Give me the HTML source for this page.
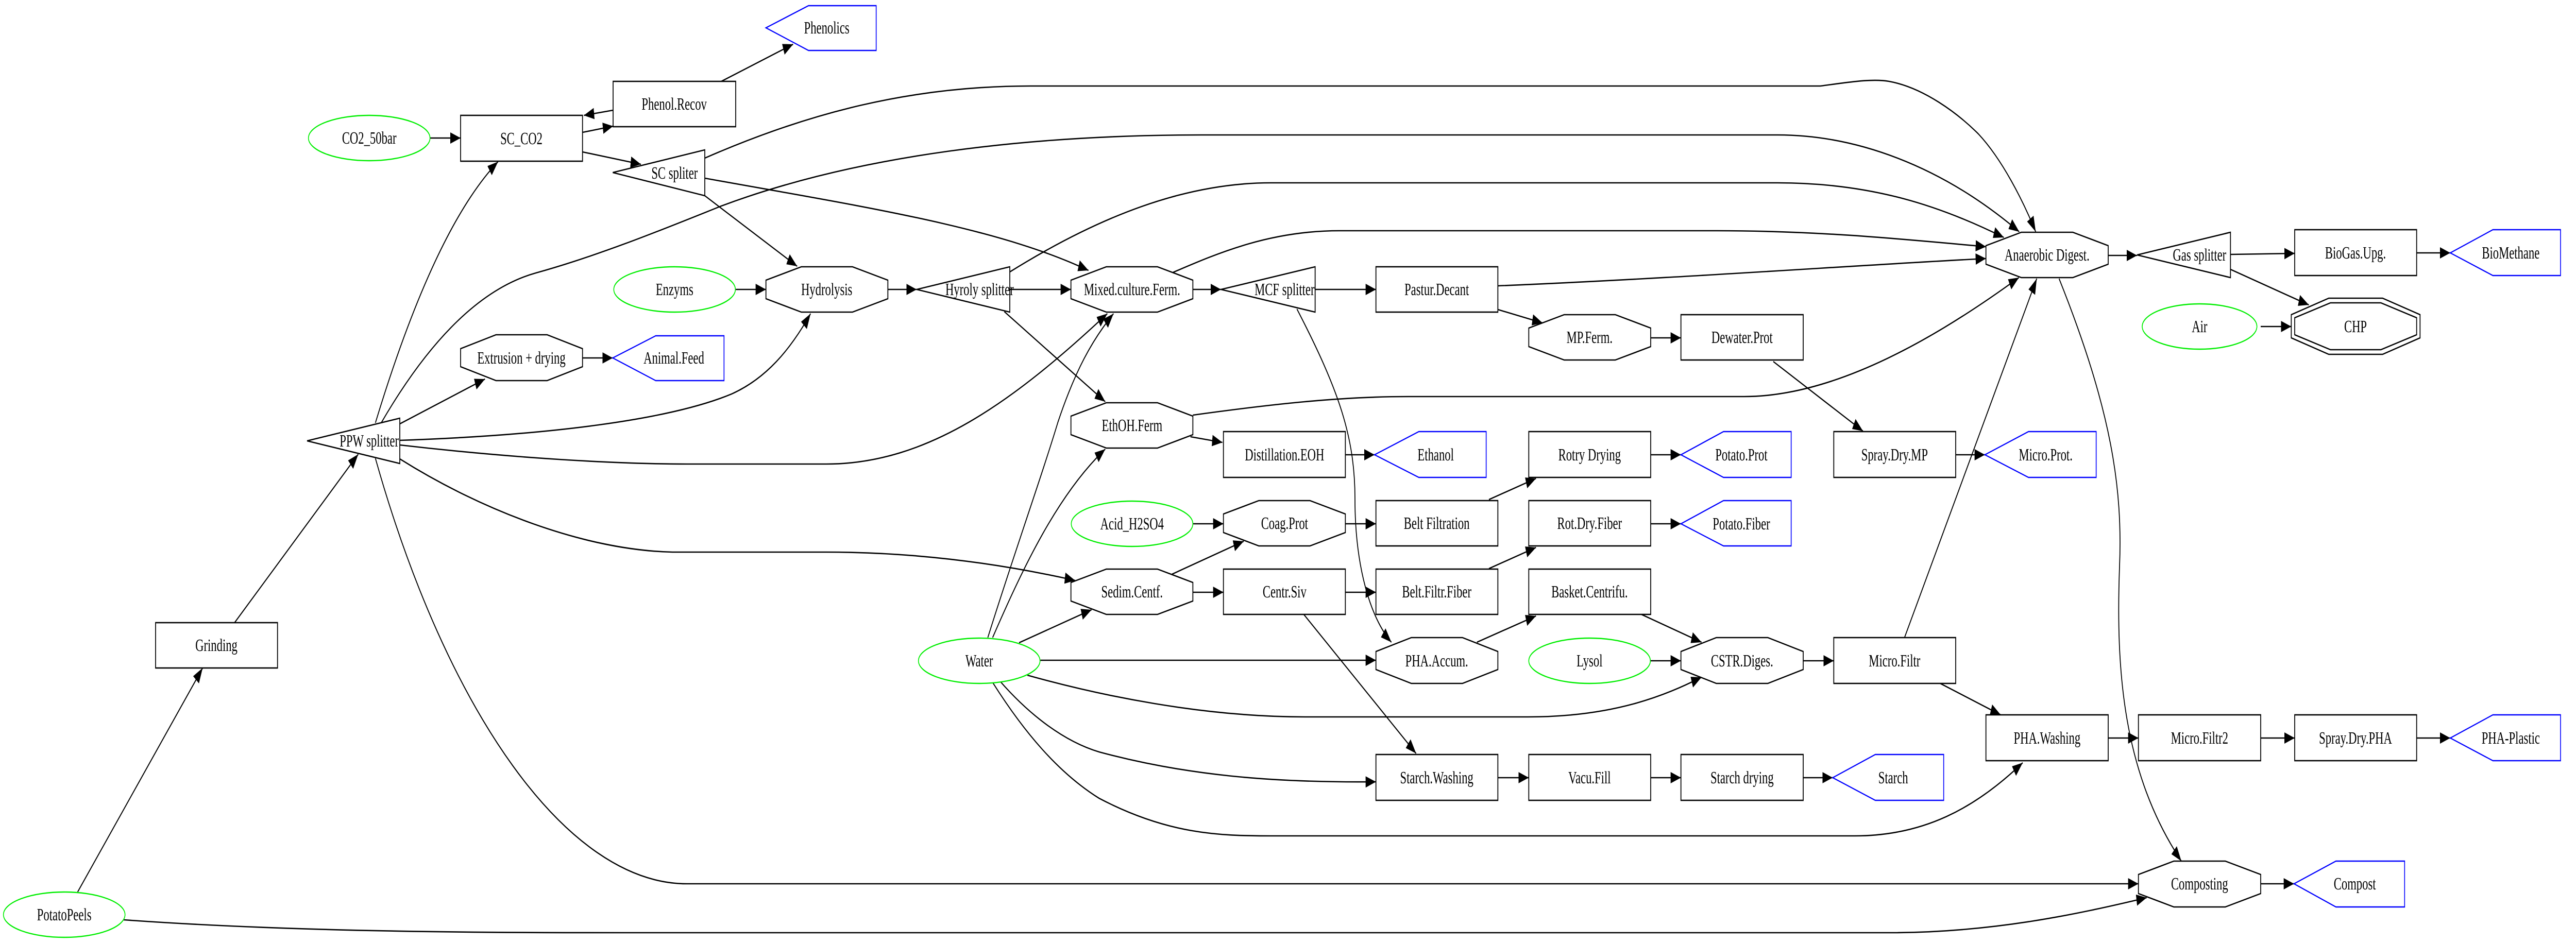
<!DOCTYPE html>
<html><head><meta charset="utf-8"><style>
html,body{margin:0;padding:0;background:#fff;overflow:hidden;width:100%;height:100%;}
svg{display:block;width:100vw;height:100vh;}
text{font-family:"Liberation Serif",serif;font-size:34px;text-anchor:middle;fill:#000;}
.e{fill:none;stroke:#000;stroke-width:2.6;}
.n{fill:#fff;stroke:#000;stroke-width:2.6;}
.g{fill:#fff;stroke:#00ee00;stroke-width:2.4;}
.b{fill:#fff;stroke:#0000ff;stroke-width:2.4;}
</style></head><body>
<svg width="7500" height="1831" viewBox="0 0 7500 1831" preserveAspectRatio="none" xmlns="http://www.w3.org/2000/svg">
<defs><marker id="a" markerUnits="userSpaceOnUse" markerWidth="32" markerHeight="24" refX="30" refY="11" orient="auto"><path d="M0,0 L30,11 L0,22 z" fill="#000"/></marker></defs>
<rect width="7500" height="1831" fill="#fff"/>
<g class="e" marker-end="url(#a)">
<path d="M226,1732 L590,1297"/>
<path d="M360,1786 C900,1812 1500,1811 1960,1811 L5500,1811 C5800,1811 6050,1775 6250,1743"/>
<path d="M683,1209 L1043,882"/>
<path d="M1093,821 C1180,630 1300,420 1450,314"/>
<path d="M1110,821 C1250,660 1400,560 1560,530 C1750,495 1950,440 2100,400 C2500,300 3000,262 3500,262 L5175,262 C5400,262 5650,320 5879,450"/>
<path d="M2052,307 C2350,220 2650,167 3000,167 L5300,167 C5380,160 5450,152 5500,158 C5600,170 5700,220 5760,260 C5830,310 5890,390 5927,450"/>
<path d="M2940,528 C3200,420 3450,355 3700,355 L5175,355 C5450,355 5650,400 5834,461"/>
<path d="M3415,529 C3550,490 3700,448 3900,448 L5000,448 C5300,448 5550,465 5782,479"/>
<path d="M4361,555 C4900,540 5400,515 5782,502"/>
<path d="M3473,806 C3700,785 3900,770 4100,770 L5078,770 C5350,770 5650,650 5878,539"/>
<path d="M5545,1238 L5930,541"/>
<path d="M6138,496 L6222,496"/>
<path d="M5995,541 C6150,800 6180,950 6171,1100 C6160,1300 6180,1500 6351,1672"/>
<path d="M2052,346 C2500,400 2900,440 3169,525"/>
<path d="M2052,380 L2321,517"/>
<path d="M2100,158 L2309,86"/>
<path d="M1696,257 L1785,245"/>
<path d="M1785,214 L1700,224"/>
<path d="M1696,295 L1866,319"/>
<path d="M1252,268 L1341,268"/>
<path d="M1164,823 L1412,736"/>
<path d="M1696,695 L1784,695"/>
<path d="M1164,855 C1600,845 1950,815 2130,765 C2230,735 2300,680 2360,609"/>
<path d="M1164,864 C1500,890 1800,901 2000,901 L2406,901 C2700,901 2950,780 3224,609"/>
<path d="M1164,891 C1400,990 1700,1068 1958,1072 L2406,1072 C2700,1072 2950,1100 3130,1127"/>
<path d="M1093,890 C1300,1380 1650,1716 2000,1716 L6226,1716"/>
<path d="M2141,562 L2230,562"/>
<path d="M2585,562 L2669,562"/>
<path d="M2940,562 L3118,562"/>
<path d="M2924,605 L3218,780"/>
<path d="M3473,562 L3555,562"/>
<path d="M3829,562 L4006,562"/>
<path d="M3776,600 C3900,760 3945,850 3945,969 C3945,1100 3990,1200 4051,1247"/>
<path d="M4361,601 L4491,627"/>
<path d="M4806,656 L4894,656"/>
<path d="M5163,702 L5424,837"/>
<path d="M5694,883 L5779,883"/>
<path d="M3466,848 L3559,859"/>
<path d="M3917,883 L4002,883"/>
<path d="M3473,1017 L3562,1017"/>
<path d="M3412,1115 L3621,1051"/>
<path d="M3473,1150 L3562,1150"/>
<path d="M3917,1017 L4006,1017"/>
<path d="M4335,970 L4472,929"/>
<path d="M4806,883 L4894,883"/>
<path d="M3917,1150 L4006,1150"/>
<path d="M4335,1104 L4472,1063"/>
<path d="M4806,1017 L4894,1017"/>
<path d="M3796,1193 L4123,1463"/>
<path d="M4300,1247 L4472,1196"/>
<path d="M4779,1193 L4954,1247"/>
<path d="M4806,1283 L4894,1283"/>
<path d="M5250,1283 L5339,1283"/>
<path d="M5649,1327 L5825,1388"/>
<path d="M6138,1433 L6226,1433"/>
<path d="M6582,1433 L6681,1433"/>
<path d="M7036,1433 L7134,1433"/>
<path d="M4361,1510 L4451,1510"/>
<path d="M4806,1510 L4894,1510"/>
<path d="M5250,1510 L5336,1510"/>
<path d="M6494,494 L6681,492"/>
<path d="M6494,523 L6722,592"/>
<path d="M7036,491 L7134,491"/>
<path d="M6582,634 L6671,634"/>
<path d="M6582,1716 L6679,1716"/>
<path d="M2876,1238 C2950,1080 3030,930 3080,820 C3130,720 3180,660 3242,609"/>
<path d="M2890,1238 C2980,1100 3080,960 3218,872"/>
<path d="M2967,1248 L3178,1184"/>
<path d="M3029,1282 L4006,1282"/>
<path d="M2991,1311 C3200,1350 3500,1392 3800,1392 L4448,1392 C4700,1392 4850,1350 4954,1315"/>
<path d="M2912,1323 C3000,1390 3100,1440 3200,1460 C3450,1505 3700,1520 4006,1518"/>
<path d="M2890,1325 C2980,1420 3080,1500 3200,1550 C3400,1620 3550,1623 3700,1623 L5400,1623 C5600,1623 5750,1570 5889,1481"/>
</g>
<g class="n">
<rect x="1341" y="224" width="355" height="89"/>
<rect x="1785" y="158" width="357" height="88"/>
<rect x="453" y="1209" width="355" height="88"/>
<rect x="3562" y="838" width="355" height="89"/>
<rect x="3562" y="1105" width="355" height="88"/>
<rect x="4006" y="518" width="355" height="88"/>
<rect x="4894" y="611" width="356" height="88"/>
<rect x="4451" y="838" width="355" height="89"/>
<rect x="4006" y="972" width="355" height="88"/>
<rect x="4451" y="972" width="355" height="88"/>
<rect x="4006" y="1105" width="355" height="88"/>
<rect x="4451" y="1105" width="355" height="88"/>
<rect x="5339" y="1238" width="355" height="89"/>
<rect x="5339" y="838" width="355" height="89"/>
<rect x="4006" y="1465" width="355" height="89"/>
<rect x="4451" y="1465" width="355" height="89"/>
<rect x="4894" y="1465" width="356" height="89"/>
<rect x="6681" y="446" width="355" height="89"/>
<rect x="5782" y="1388" width="356" height="89"/>
<rect x="6226" y="1388" width="356" height="89"/>
<rect x="6681" y="1388" width="355" height="89"/>
<polygon points="1341,677 1444,650 1593,650 1696,677 1696,712 1593,739 1444,739 1341,712"/>
<polygon points="2230,544 2333,518 2482,518 2585,544 2585,580 2482,606 2333,606 2230,580"/>
<polygon points="3118,544 3221,518 3370,518 3473,544 3473,580 3370,606 3221,606 3118,580"/>
<polygon points="3118,808 3221,782 3370,782 3473,808 3473,844 3370,870 3221,870 3118,844"/>
<polygon points="3118,1131 3221,1105 3370,1105 3473,1131 3473,1167 3370,1193 3221,1193 3118,1167"/>
<polygon points="3562,998 3665,972 3814,972 3917,998 3917,1034 3814,1060 3665,1060 3562,1034"/>
<polygon points="4451,637 4554,611 4703,611 4806,637 4806,673 4703,699 4554,699 4451,673"/>
<polygon points="4006,1265 4109,1238 4258,1238 4361,1265 4361,1300 4258,1327 4109,1327 4006,1300"/>
<polygon points="4894,1265 4997,1238 5147,1238 5250,1265 5250,1300 5147,1327 4997,1327 4894,1300"/>
<polygon points="5782,477 5885,451 6035,451 6138,477 6138,513 6035,539 5885,539 5782,513"/>
<polygon points="6226,1698 6329,1672 6479,1672 6582,1698 6582,1735 6479,1761 6329,1761 6226,1735"/>
<polygon points="6671,611 6780,579 6937,579 7046,611 7046,656 6937,688 6780,688 6671,656"/>
<polygon points="6681,617 6785,588 6932,588 7036,617 7036,650 6932,679 6785,679 6681,650"/>
<polygon points="1784,335 2052,291 2052,380"/>
<polygon points="894,856 1164,812 1164,900"/>
<polygon points="2669,562 2940,518 2940,606"/>
<polygon points="3555,562 3829,518 3829,606"/>
<polygon points="6222,495 6494,451 6494,539"/>
</g>
<g class="g">
<ellipse cx="1075" cy="268" rx="177" ry="44"/>
<ellipse cx="1964" cy="562" rx="177" ry="44"/>
<ellipse cx="3296" cy="1017" rx="177" ry="44"/>
<ellipse cx="2851" cy="1283" rx="177" ry="44"/>
<ellipse cx="4628" cy="1283" rx="177" ry="44"/>
<ellipse cx="6404" cy="634" rx="167" ry="44"/>
<ellipse cx="187" cy="1776" rx="177" ry="44"/>
</g>
<g class="b">
<polygon points="2230,54 2354,11 2551,11 2551,98 2354,98"/>
<polygon points="1784,695 1909,652 2108,652 2108,739 1909,739"/>
<polygon points="4002,883 4131,838 4327,838 4327,927 4131,927"/>
<polygon points="4894,883 5018,838 5215,838 5215,927 5018,927"/>
<polygon points="4894,1017 5018,972 5215,972 5215,1060 5018,1060"/>
<polygon points="5336,1510 5460,1465 5659,1465 5659,1554 5460,1554"/>
<polygon points="5779,883 5906,838 6103,838 6103,927 5906,927"/>
<polygon points="7134,491 7258,446 7455,446 7455,535 7258,535"/>
<polygon points="7134,1433 7258,1388 7455,1388 7455,1477 7258,1477"/>
<polygon points="6679,1716 6801,1672 7001,1672 7001,1761 6801,1761"/>
</g>
<g>
<text x="1518" y="280">SC_CO2</text>
<text x="1963" y="213">Phenol.Recov</text>
<text x="630" y="1264">Grinding</text>
<text x="3740" y="894">Distillation.EOH</text>
<text x="3740" y="1160">Centr.Siv</text>
<text x="4183" y="573">Pastur.Decant</text>
<text x="5072" y="666">Dewater.Prot</text>
<text x="4628" y="894">Rotry Drying</text>
<text x="4183" y="1027">Belt Filtration</text>
<text x="4628" y="1027">Rot.Dry.Fiber</text>
<text x="4183" y="1160">Belt.Filtr.Fiber</text>
<text x="4628" y="1160">Basket.Centrifu.</text>
<text x="5516" y="1294">Micro.Filtr</text>
<text x="5516" y="894">Spray.Dry.MP</text>
<text x="4183" y="1521">Starch.Washing</text>
<text x="4628" y="1521">Vacu.Fill</text>
<text x="5072" y="1521">Starch drying</text>
<text x="6858" y="502">BioGas.Upg.</text>
<text x="5960" y="1444">PHA.Washing</text>
<text x="6404" y="1444">Micro.Filtr2</text>
<text x="6858" y="1444">Spray.Dry.PHA</text>
<text x="1518" y="706">Extrusion + drying</text>
<text x="2407" y="573">Hydrolysis</text>
<text x="3296" y="573">Mixed.culture.Ferm.</text>
<text x="3296" y="837">EthOH.Ferm</text>
<text x="3296" y="1160">Sedim.Centf.</text>
<text x="3740" y="1027">Coag.Prot</text>
<text x="4628" y="666">MP.Ferm.</text>
<text x="4183" y="1294">PHA.Accum.</text>
<text x="5072" y="1294">CSTR.Diges.</text>
<text x="5960" y="506">Anaerobic Digest.</text>
<text x="6404" y="1727">Composting</text>
<text x="6858" y="645">CHP</text>
<text x="1964" y="347">SC spliter</text>
<text x="1075" y="867">PPW splitter</text>
<text x="2852" y="573">Hyroly splitter</text>
<text x="3740" y="573">MCF splitter</text>
<text x="6404" y="506">Gas splitter</text>
<text x="1075" y="279">CO2_50bar</text>
<text x="1964" y="573">Enzyms</text>
<text x="3296" y="1028">Acid_H2SO4</text>
<text x="2851" y="1294">Water</text>
<text x="4628" y="1294">Lysol</text>
<text x="6404" y="645">Air</text>
<text x="187" y="1787">PotatoPeels</text>
<text x="2407" y="65">Phenolics</text>
<text x="1962" y="706">Animal.Feed</text>
<text x="4180" y="894">Ethanol</text>
<text x="5070" y="894">Potato.Prot</text>
<text x="5070" y="1028">Potato.Fiber</text>
<text x="5512" y="1521">Starch</text>
<text x="5956" y="894">Micro.Prot.</text>
<text x="7310" y="502">BioMethane</text>
<text x="7310" y="1444">PHA-Plastic</text>
<text x="6856" y="1727">Compost</text>
</g>
</svg>
</body></html>
